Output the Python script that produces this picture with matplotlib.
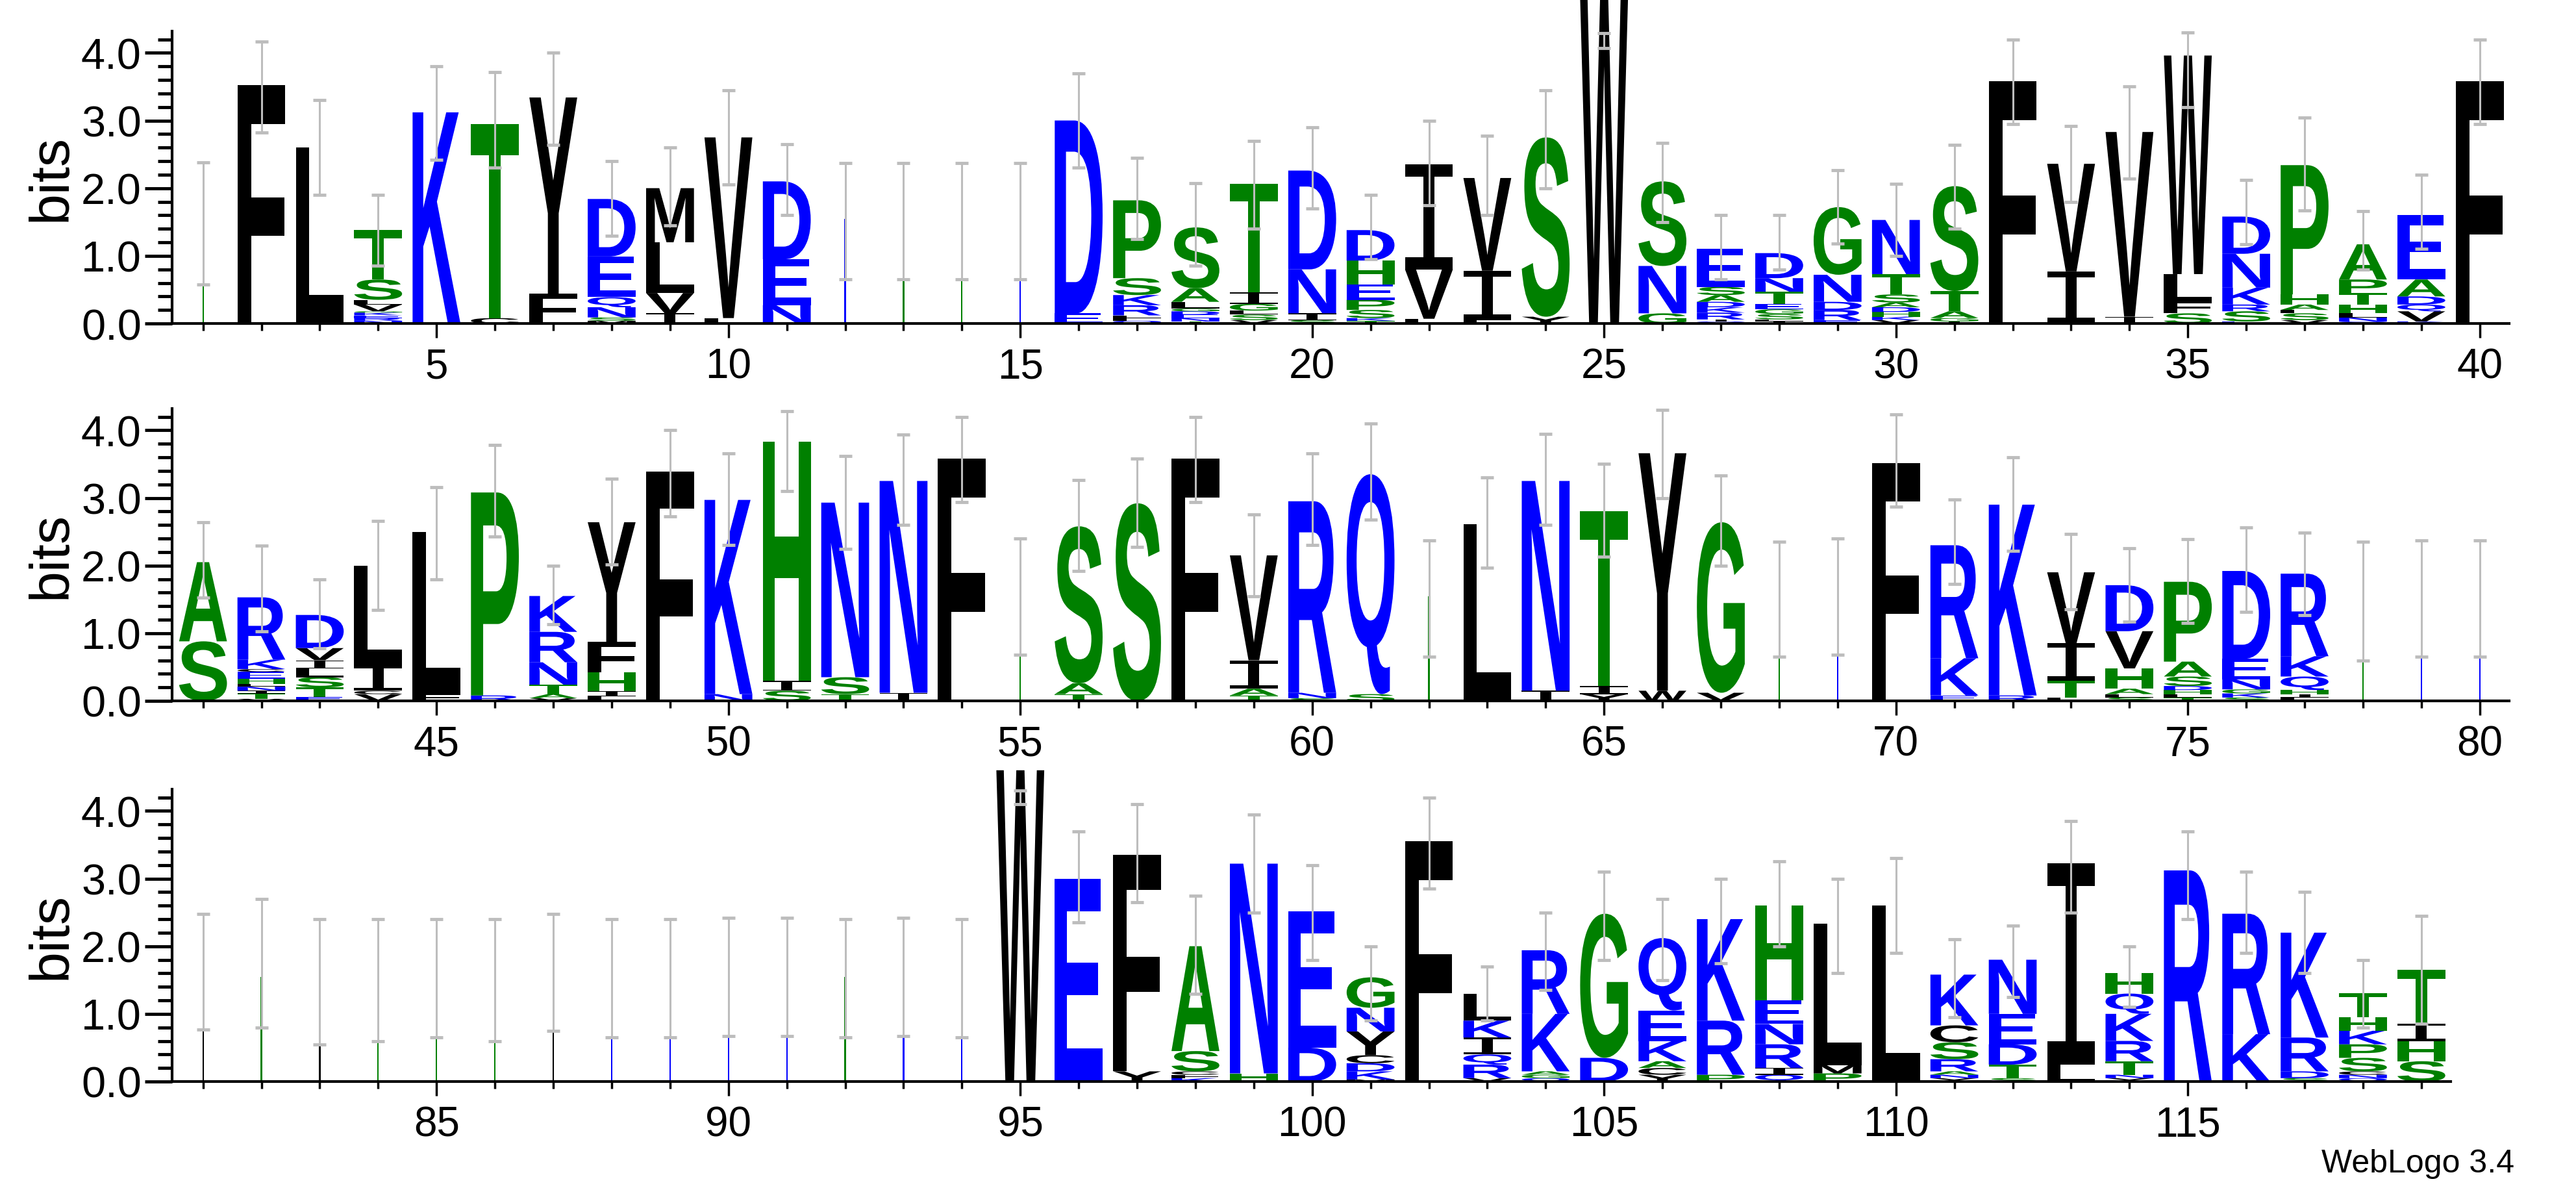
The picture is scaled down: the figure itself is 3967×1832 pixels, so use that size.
import matplotlib
matplotlib.use("Agg")
import matplotlib.pyplot as plt
from matplotlib.textpath import TextPath
from matplotlib.font_manager import FontProperties
from matplotlib.patches import PathPatch
from matplotlib.transforms import Affine2D
from matplotlib.ticker import MultipleLocator

# ---------------- data ----------------
row1_start = 1
row1_stacks = [
    "~g", "F3.52", "L2.6", "N0.04 R0.04 E0.04 K0.04 G0.02 V0.1 L0.07 S0.3 T0.73",
    "K3.12", "C0.08 T2.87", "F0.44 Y2.9", "M0.04 S0.05 N0.15 Q0.15 E0.6 D0.85",
    "I0.15 V0.3 L0.75 M0.8", "L0.08 V2.67", "N0.27 E0.68 D1.15",
    "~n", "~g", "~g", "~n",
    "E0.15 D2.85", "Q0.04 F0.04 L0.04 R0.15 K0.15 S0.25 P1.15",
    "T0.03 N0.05 E0.05 D0.05 G0.04 L0.1 A0.2 S0.9",
    "V0.05 S0.08 L0.06 G0.1 I0.17 T1.6", "S0.05 I0.1 N0.65 D1.46",
    "T0.04 K0.04 S0.12 P0.15 E0.23 H0.35 D0.45", "L0.07 V0.73 I1.55",
    "L0.05 I0.73 V1.37", "Y0.1 S2.65", "W4.8", "G0.15 N0.7 S1.25",
    "Q0.03 I0.03 R0.1 K0.08 D0.08 A0.1 S0.12 E0.56",
    "I0.03 L0.03 S0.08 G0.07 E0.08 T0.18 N0.2 D0.37",
    "E0.05 R0.15 D0.12 N0.4 G1.0",
    "V0.05 K0.05 H0.07 D0.07 A0.07 S0.12 T0.3 N0.8",
    "I0.03 G0.05 A0.1 T0.3 S1.55", "F3.58", "I0.77 V1.59", "I0.1 V2.73",
    "S0.15 F0.18 L0.4 W3.23", "E0.03 S0.15 R0.1 K0.25 N0.5 D0.55",
    "V0.05 S0.1 L0.05 A0.08 H0.15 P1.91",
    "Q0.03 N0.06 L0.06 H0.13 T0.17 P0.2 A0.52",
    "K0.03 V0.15 Q0.1 D0.12 A0.25 E0.95", "F3.58",
]
row1_err_lo = [0.58, 2.82, 1.9, 0.85, 2.42, 2.3, 2.64, 1.3, 1.45, 2.05, 1.6, 0.65, 0.65, 0.65, 0.65,
               2.3, 1.25, 0.85, 1.4, 1.7, 0.95, 1.75, 1.6, 2.0, 4.07, 1.5, 0.65, 0.8, 1.18, 1.0,
               1.4, 2.95, 1.8, 2.14, 3.2, 1.17, 1.67, 0.8, 1.1, 2.95]
row1_err_hi = [2.38, 4.17, 3.3, 1.9, 3.8, 3.72, 4.0, 2.4, 2.6, 3.45, 2.65, 2.37, 2.37, 2.37, 2.37,
               3.7, 2.45, 2.07, 2.7, 2.9, 1.9, 3.0, 2.77, 3.45, 4.29, 2.67, 1.6, 1.6, 2.27, 2.06,
               2.64, 4.2, 2.92, 3.5, 4.3, 2.12, 3.04, 1.66, 2.2, 4.2]

row2_start = 41
row2_stacks = [
    "S0.88 A1.17", "V0.03 T0.08 I0.04 N0.06 L0.04 H0.08 E0.1 C0.04 K0.14 R0.92",
    "E0.06 T0.14 S0.15 L0.13 I0.12 V0.18 D0.49", "V0.1 C0.05 I0.37 L1.48",
    "F0.1 L2.4", "R0.08 P3.0", "V0.04 A0.06 T0.14 N0.33 R0.45 K0.53",
    "L0.07 I0.07 H0.28 F0.45 Y1.77", "F3.39", "N0.1 K2.87", "S0.15 I0.15 H3.53",
    "T0.1 S0.25 N2.58", "I0.12 N3.13", "F3.58", "~g", "T0.1 A0.16 S2.32", "S2.92",
    "F3.58", "T0.08 A0.1 I0.42 V1.55", "S0.04 N0.08 R2.83", "S0.1 Q3.25", "~g",
    "L2.61", "I0.15 N3.1", "Y0.1 I0.12 T2.58", "W0.15 Y3.51", "V0.12 G2.52",
    "~g", "~n", "F3.51", "E0.08 K0.55 R1.67", "R0.08 K2.82", "L0.05 T0.25 I0.55 V1.05",
    "S0.05 L0.05 A0.08 H0.3 V0.55 D0.68", "T0.05 L0.05 H0.06 D0.06 S0.14 A0.22 P1.18",
    "S0.05 K0.06 G0.06 N0.15 E0.3 D1.3", "L0.05 I0.05 H0.06 Q0.2 K0.3 R1.22",
    "~g", "~n", "~n",
]
row2_err_lo = [1.53, 1.03, 0.78, 1.34, 1.8, 2.43, 1.13, 2.02, 2.73, 2.3, 3.1, 2.25, 2.6, 2.94, 0.68,
               1.92, 2.28, 2.94, 1.55, 2.3, 2.68, 0.65, 1.97, 2.6, 2.13, 3.0, 2.0, 0.65, 0.68, 2.87,
               1.73, 2.22, 1.35, 1.17, 1.15, 1.32, 1.27, 0.6, 0.65, 0.65]
row2_err_hi = [2.64, 2.29, 1.8, 2.66, 3.16, 3.78, 2.0, 3.28, 4.0, 3.66, 4.28, 3.62, 3.94, 4.2, 2.4,
               3.26, 3.58, 4.2, 2.76, 3.66, 4.1, 2.37, 3.3, 3.95, 3.5, 4.3, 3.33, 2.35, 2.4, 4.23,
               2.98, 3.6, 2.47, 2.26, 2.39, 2.56, 2.49, 2.35, 2.37, 2.37]

row3_start = 81
row3_stacks = [
    "~f", "~g", "~f", "~g", "~g", "~g", "~f", "~n", "~n", "~n", "~n", "~g", "~n", "~n",
    "W4.6", "E3.0", "Y0.15 F3.2", "K0.05 F0.05 C0.05 S0.3 A1.55", "H0.12 N3.1",
    "D0.5 E2.02", "M0.03 K0.12 D0.12 C0.12 Y0.35 N0.35 G0.45", "F3.55",
    "V0.05 R0.2 Q0.15 I0.25 K0.25 L0.4", "Q0.05 G0.05 A0.05 K0.85 R0.94",
    "D0.35 G2.13", "Y0.1 C0.1 A0.1 K0.3 E0.45 Q1.07", "P0.1 R0.8 K1.5",
    "Q0.1 I0.1 R0.35 N0.3 E0.35 H1.4", "P0.12 M0.12 L2.09", "L2.6",
    "Y0.05 N0.05 A0.05 R0.18 S0.25 C0.25 K0.75", "S0.05 T0.2 D0.3 E0.45 N0.8",
    "L0.25 I2.98", "Y0.05 N0.05 T0.2 R0.3 K0.4 Q0.3 H0.3", "R3.12", "K0.7 R1.78",
    "S0.05 D0.1 R0.5 K1.55", "Q0.05 N0.05 C0.05 S0.2 P0.2 K0.2 H0.2 T0.36",
    "S0.3 H0.3 I0.25 T0.8",
]
row3_err_lo = [0.77, 0.8, 0.55, 0.6, 0.65, 0.6, 0.75, 0.65, 0.65, 0.67, 0.67, 0.65, 0.67, 0.65,
               4.1, 2.35, 2.65, 1.3, 2.5, 1.8, 0.9, 2.85, 0.9, 1.35, 1.8, 1.5, 1.75, 2.0, 1.6, 1.9,
               0.95, 1.25, 2.5, 1.1, 2.4, 1.9, 1.6, 0.8, 0.85]
row3_err_hi = [2.48, 2.7, 2.4, 2.4, 2.4, 2.4, 2.48, 2.4, 2.4, 2.42, 2.42, 2.4, 2.42, 2.4,
               4.3, 3.7, 4.1, 2.75, 3.95, 3.2, 2.0, 4.2, 1.7, 2.5, 3.1, 2.7, 3.0, 3.25, 3.0, 3.3,
               2.1, 2.3, 3.85, 2.0, 3.7, 3.1, 2.8, 1.8, 2.45]

y_ticks = [0.0, 1.0, 2.0, 3.0, 4.0]

# ---------------- style ----------------
GREEN = "#008000"; BLUE = "#0000ff"; BLACK = "#000000"
colour = {}
for c in "FLIVWYMC": colour[c] = BLACK
for c in "AGPSTH": colour[c] = GREEN
for c in "DEKNRQ": colour[c] = BLUE
sliver_col = {"f": BLACK, "g": GREEN, "n": BLUE}

letter_fp = FontProperties(family="Liberation Sans", weight="bold")
serif_i_fp = FontProperties(family="Liberation Mono", weight="normal")
label_family = ["Liberation Sans Narrow", "Liberation Sans"]
_paths = {}
def glyph(ch):
    if ch not in _paths:
        fp = serif_i_fp if ch == "I" else letter_fp
        _paths[ch] = TextPath((0, 0), ch, size=100, prop=fp)
    return _paths[ch]

W_, H_ = 3967, 1833
fig = plt.figure(figsize=(W_ / 100, H_ / 100), dpi=100)
LW = 0.0668
unit = 89.9 / W_
rows = [
    (row1_start, row1_stacks, row1_err_lo, row1_err_hi, 1 - 499 / H_),
    (row2_start, row2_stacks, row2_err_lo, row2_err_hi, 1 - 1080 / H_),
    (row3_start, row3_stacks, row3_err_lo, row3_err_hi, 1 - 1666 / H_),
]
AX_H = 450 / H_
LETTER_W = 0.82

for start, stacks, elo, ehi, bottom in rows:
    n = len(stacks)
    x0, x1 = start - 0.53, start + n - 1 + 0.5
    ax = fig.add_axes([LW, bottom, (x1 - x0) * unit, AX_H])
    ax.set_xlim(x0, x1)
    ax.set_ylim(0, 4.32)
    positions = list(range(start, start + n))
    for pos, s in zip(positions, stacks):
        y = 0.0
        for tok in s.split():
            if tok.startswith("~"):
                ax.bar(pos, 1.55, width=0.025, color=sliver_col[tok[1]], zorder=2)
                continue
            ch, h = tok[0], float(tok[1:])
            p = glyph(ch)
            ext = p.get_extents()
            tr = (Affine2D().translate(-ext.x0, -ext.y0)
                  .scale(LETTER_W / ext.width, h / ext.height)
                  .translate(pos - LETTER_W / 2, y))
            patch = PathPatch(tr.transform_path(p), facecolor=colour[ch],
                              edgecolor="none", transform=ax.transData, zorder=2)
            if ch == "W" and h > 4.3:
                patch.set_clip_on(False)
            ax.add_patch(patch)
            y += h
    centre = [(a + b) / 2 for a, b in zip(elo, ehi)]
    half = [(b - a) / 2 for a, b in zip(elo, ehi)]
    ax.errorbar(positions, centre, yerr=half, fmt="none", ecolor="#bdbdbd",
                elinewidth=2.2, capsize=7, capthick=3.5, zorder=3)
    for sp in ("top", "right"):
        ax.spines[sp].set_visible(False)
    for sp in ("left", "bottom"):
        ax.spines[sp].set_linewidth(3)
    ax.set_yticks(y_ticks)
    ax.set_yticklabels([f"{v:.1f}" for v in y_ticks], family=label_family, fontsize=48)
    ax.yaxis.set_minor_locator(MultipleLocator(0.2))
    first5 = ((start + 4) // 5) * 5
    major = list(range(first5, start + n, 5))
    ax.set_xticks(major)
    ax.set_xticklabels([str(m) for m in major], family=label_family, fontsize=46)
    ax.set_xticks(positions, minor=True)
    ax.tick_params(axis="y", which="major", length=30, width=3.5, direction="out", pad=4)
    ax.tick_params(axis="y", which="minor", length=16, width=3.5, direction="out")
    ax.tick_params(axis="x", which="major", length=16, width=2.5, direction="out", pad=10)
    ax.tick_params(axis="x", which="minor", length=8, width=2.5, direction="out")
    ax.set_ylabel("bits", family=label_family, fontsize=62, labelpad=4)

fig.text(0.976, 0.01, "WebLogo 3.4", ha="right", va="bottom", family=label_family, fontsize=36)
fig.savefig("out.png", dpi=100)
